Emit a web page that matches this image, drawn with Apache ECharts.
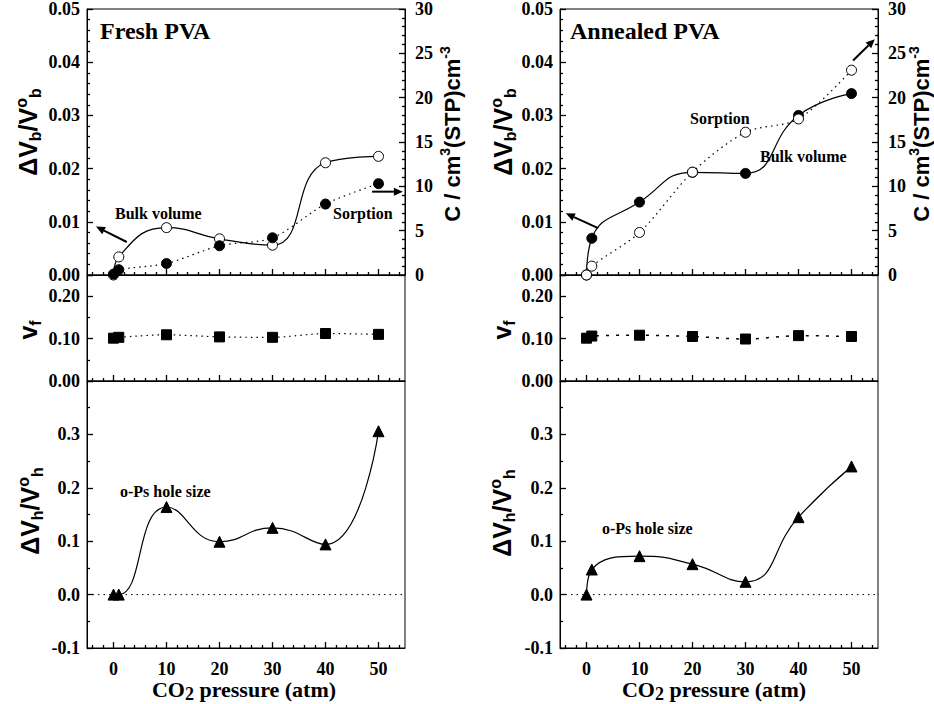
<!DOCTYPE html>
<html>
<head>
<meta charset="utf-8">
<script src="https://cdn.jsdelivr.net/npm/echarts@6/dist/echarts.min.js"></script>
<style>
html, body { margin: 0; padding: 0; background: #fff; }
#chart { width: 934px; height: 704px; }
</style>
</head>
<body>
<div id="chart"></div>
<script>
// CO2 pressure (atm)
var pressure = [0, 1, 10, 20, 30, 40, 50];

// Fresh PVA
var freshBulk = [0, 0.0034, 0.0089, 0.0068, 0.0056, 0.0211, 0.0223];
var freshSorption = [0.1, 0.6, 1.3, 3.3, 4.2, 8.0, 10.3];
var freshVf = [0.101, 0.103, 0.109, 0.104, 0.103, 0.112, 0.110];
var freshHole = [0.0, 0.0, 0.164, 0.099, 0.125, 0.094, 0.306];

// Annealed PVA
var annealedBulk = [0, 0.0069, 0.0137, 0.0193, 0.0191, 0.0300, 0.0341];
var annealedSorption = [0, 1.0, 4.8, 11.6, 16.1, 17.6, 23.1];
var annealedVf = [0.101, 0.106, 0.108, 0.105, 0.099, 0.107, 0.105];
var annealedHole = [0.0, 0.047, 0.072, 0.057, 0.024, 0.145, 0.240];

// x axis tick labels
var xLabels = [0, 10, 20, 30, 40, 50];
var xMinor = [-4, -2, 2, 4, 6, 8, 12, 14, 16, 18, 22, 24, 26, 28, 32, 34, 36, 38, 42, 44, 46, 48, 52, 54];

var SERIF = '"Liberation Serif", "Times New Roman", serif';
var SANS = '"Liberation Sans", Arial, sans-serif';

var myChart = echarts.init(document.getElementById('chart'), null, { renderer: 'svg' });

function pairs(ys) {
    return pressure.map(function(p, i) { return [p, ys[i]]; });
}

// 面板位置
var cols = [87, 560];
var rows = [[8, 267], [275, 106], [381, 267]];
var grids = [];
cols.forEach(function(left) {
    rows.forEach(function(r) {
        grids.push({
            left: left, top: r[0], width: 318, height: r[1],
            show: true, borderColor: '#000', borderWidth: 1
        });
    });
});

var tickLabel = { color: '#000', fontFamily: SERIF, fontWeight: 'bold', fontSize: 18 };
var tickLine = { color: '#000', width: 1.3 };

var xAxes = [];
grids.forEach(function(g, i) {
    xAxes.push({
        type: 'value', gridIndex: i, min: -5, max: 55, position: 'bottom',
        axisLine: { show: true, onZero: false, lineStyle: { color: '#000' } },
        axisTick: { show: true, inside: true, length: 6, customValues: xLabels, lineStyle: tickLine },
        axisLabel: Object.assign({ show: i % 3 === 2, customValues: xLabels, margin: 12 }, tickLabel),
        splitLine: { show: false }
    });
    xAxes.push({
        type: 'value', gridIndex: i, min: -5, max: 55, position: 'bottom',
        axisLine: { show: false, onZero: false },
        axisTick: { show: true, inside: true, length: 3, customValues: xMinor, lineStyle: tickLine },
        axisLabel: { show: false, customValues: xMinor },
        splitLine: { show: false }
    });
});

function yAxis(gi, min, max, interval, split, digits, pos, showMax) {
    return {
        type: 'value', gridIndex: gi, min: min, max: max, interval: interval, position: pos,
        axisLine: { show: true, onZero: false, lineStyle: { color: '#000' } },
        axisTick: { show: true, inside: true, length: 6, lineStyle: tickLine },
        minorTick: { show: true, splitNumber: split, length: 3, lineStyle: tickLine },
        axisLabel: Object.assign({
            margin: pos === 'left' ? 7 : 10,
            showMaxLabel: showMax,
            formatter: function(v) { return digits == null ? String(Math.round(v)) : v.toFixed(digits); }
        }, tickLabel),
        splitLine: { show: false }
    };
}

var yAxes = [];
[0, 3].forEach(function(g) {
    yAxes.push(yAxis(g, 0, 0.05, 0.01, 5, 2, 'left', true));
    yAxes.push(yAxis(g, 0, 30, 5, 5, null, 'right', true));
    yAxes.push(yAxis(g + 1, 0, 0.25, 0.1, 2, 2, 'left', false));
    yAxes.push(yAxis(g + 2, -0.1, 0.4, 0.1, 2, 1, 'left', false));
});

var openCircle = { color: '#fff', borderColor: '#000', borderWidth: 1 };
var filled = { color: '#000', borderColor: '#000', borderWidth: 1 };
var solidLine = { color: '#000', width: 1.2 };
var dotLine = { color: '#000', width: 1.2, type: [1.5, 4] };

var series = [
    // Fresh PVA
    {
        name: 'Bulk volume', type: 'line', xAxisIndex: 0, yAxisIndex: 0,
        data: pairs(freshBulk), smooth: 0.5, symbol: 'circle', symbolSize: 10,
        itemStyle: openCircle, lineStyle: solidLine
    },
    {
        name: 'Sorption', type: 'line', xAxisIndex: 0, yAxisIndex: 1,
        data: pairs(freshSorption), smooth: 0.3, symbol: 'circle', symbolSize: 10,
        itemStyle: filled, lineStyle: dotLine
    },
    {
        name: 'vf', type: 'line', xAxisIndex: 2, yAxisIndex: 2,
        data: pairs(freshVf), smooth: 0.3, symbol: 'rect', symbolSize: 10,
        itemStyle: filled, lineStyle: dotLine
    },
    {
        name: 'o-Ps hole size', type: 'line', xAxisIndex: 4, yAxisIndex: 3,
        data: pairs(freshHole), smooth: 0.5, symbol: 'triangle', symbolSize: 11,
        itemStyle: filled, lineStyle: solidLine
    },
    // Annealed PVA
    {
        name: 'Bulk volume', type: 'line', xAxisIndex: 6, yAxisIndex: 4,
        data: pairs(annealedBulk), smooth: 0.5, symbol: 'circle', symbolSize: 10,
        itemStyle: filled, lineStyle: solidLine
    },
    {
        name: 'Sorption', type: 'line', xAxisIndex: 6, yAxisIndex: 5,
        data: pairs(annealedSorption), smooth: 0.3, symbol: 'circle', symbolSize: 10,
        itemStyle: openCircle, lineStyle: dotLine
    },
    {
        name: 'vf', type: 'line', xAxisIndex: 8, yAxisIndex: 6,
        data: pairs(annealedVf), smooth: 0.3, symbol: 'rect', symbolSize: 10,
        itemStyle: filled, lineStyle: { color: '#000', width: 1.5, type: [3, 7] }
    },
    {
        name: 'o-Ps hole size', type: 'line', xAxisIndex: 10, yAxisIndex: 7,
        data: pairs(annealedHole), smooth: 0.5, symbol: 'triangle', symbolSize: 11,
        itemStyle: filled, lineStyle: solidLine
    }
];

// 文字标注
function txt(x, y, text, size) {
    return {
        type: 'text', x: x, y: y, silent: true,
        style: {
            text: text, fill: '#000', fontFamily: SERIF, fontWeight: 'bold', fontSize: size,
            align: 'left', verticalAlign: 'middle'
        }
    };
}

function tok(family, size, pad) {
    return { fontFamily: family, fontWeight: 'bold', fontSize: size, fill: '#000', padding: pad };
}

function vName(x, y, text, size) {
    return {
        type: 'text', x: x, y: y, rotation: Math.PI / 2, silent: true,
        style: {
            text: text, fill: '#000', fontFamily: SANS, fontWeight: 'bold', fontSize: size,
            align: 'center', verticalAlign: 'middle',
            rich: {
                n: tok(SANS, size, [0, 0, 0, 0]),
                s: tok(SANS, Math.round(size * 0.62), [14, 0, 0, 0]),
                p: tok(SANS, Math.round(size * 0.62), [0, 0, 14, 0])
            }
        }
    };
}

function xName(x, y) {
    return {
        type: 'text', x: x, y: y, silent: true,
        style: {
            text: '{n|CO}{s|2}{n| pressure (atm)}', fill: '#000',
            fontFamily: SERIF, fontWeight: 'bold', fontSize: 22,
            align: 'center', verticalAlign: 'middle',
            rich: {
                n: tok(SERIF, 22, [0, 0, 0, 0]),
                s: tok(SERIF, 18, [9, 0, 0, 0])
            }
        }
    };
}

var bulkName = '{n|ΔV}{s|b}{n|/V}{p|o}{s|b}';
var holeName = '{n|ΔV}{s|h}{n|/V}{p|o}{s|h}';
var cName = '{n|C / cm}{p|3}{n|(STP)cm}{p|-3}';
var vfName = '{n|v}{s|f}';

var graphics = [
    txt(100, 31, 'Fresh PVA', 24),
    txt(570, 31, 'Annealed PVA', 24),
    txt(115, 213, 'Bulk volume', 16),
    txt(333, 213, 'Sorption', 16),
    txt(690, 118, 'Sorption', 16),
    txt(760, 156, 'Bulk volume', 16),
    txt(120, 491, 'o-Ps hole size', 16),
    txt(602, 528, 'o-Ps hole size', 16),
    vName(28, 132, bulkName, 25),
    vName(503, 132, bulkName, 25),
    vName(452, 134, cName, 22),
    vName(921, 134, cName, 22),
    vName(28, 330, vfName, 25),
    vName(502, 330, vfName, 25),
    vName(30, 511, holeName, 25),
    vName(502, 513, holeName, 25),
    xName(244, 689),
    xName(714, 689)
];

myChart.setOption({
    animation: false,
    backgroundColor: '#fff',
    grid: grids,
    xAxis: xAxes,
    yAxis: yAxes,
    series: series
});

// 箭头和零线：数据坐标经 convertToPixel 换算
function px(seriesIndex, pt) {
    return myChart.convertToPixel({ seriesIndex: seriesIndex }, pt);
}

function arrow(seriesIndex, from, to) {
    var a = px(seriesIndex, from), b = px(seriesIndex, to);
    var dx = b[0] - a[0], dy = b[1] - a[1];
    var len = Math.sqrt(dx * dx + dy * dy);
    var ux = dx / len, uy = dy / len;
    var hl = 9, hw = 4;
    var base = [b[0] - ux * hl, b[1] - uy * hl];
    return [
        {
            type: 'line', silent: true,
            shape: { x1: a[0], y1: a[1], x2: base[0], y2: base[1] },
            style: { stroke: '#000', lineWidth: 2 }
        },
        {
            type: 'polygon', silent: true,
            shape: { points: [b, [base[0] - uy * hw, base[1] + ux * hw], [base[0] + uy * hw, base[1] - ux * hw]] },
            style: { fill: '#000' }
        }
    ];
}

function zeroLine(seriesIndex) {
    var a = px(seriesIndex, [-5, 0]), b = px(seriesIndex, [55, 0]);
    return {
        type: 'line', silent: true,
        shape: { x1: a[0], y1: a[1], x2: b[0], y2: b[1] },
        style: { stroke: '#000', lineWidth: 1, lineDash: [1.5, 4] }
    };
}

var extras = [].concat(
    arrow(0, [2.5, 0.0062], [-3.3, 0.0091]),
    arrow(1, [48.8, 9.4], [54.6, 9.4]),
    arrow(4, [2.2, 0.0088], [-3.9, 0.0116]),
    arrow(5, [50.3, 24.2], [54.4, 26.6]),
    [zeroLine(3), zeroLine(7)]
);

myChart.setOption({ graphic: graphics.concat(extras) });
</script>
</body>
</html>
